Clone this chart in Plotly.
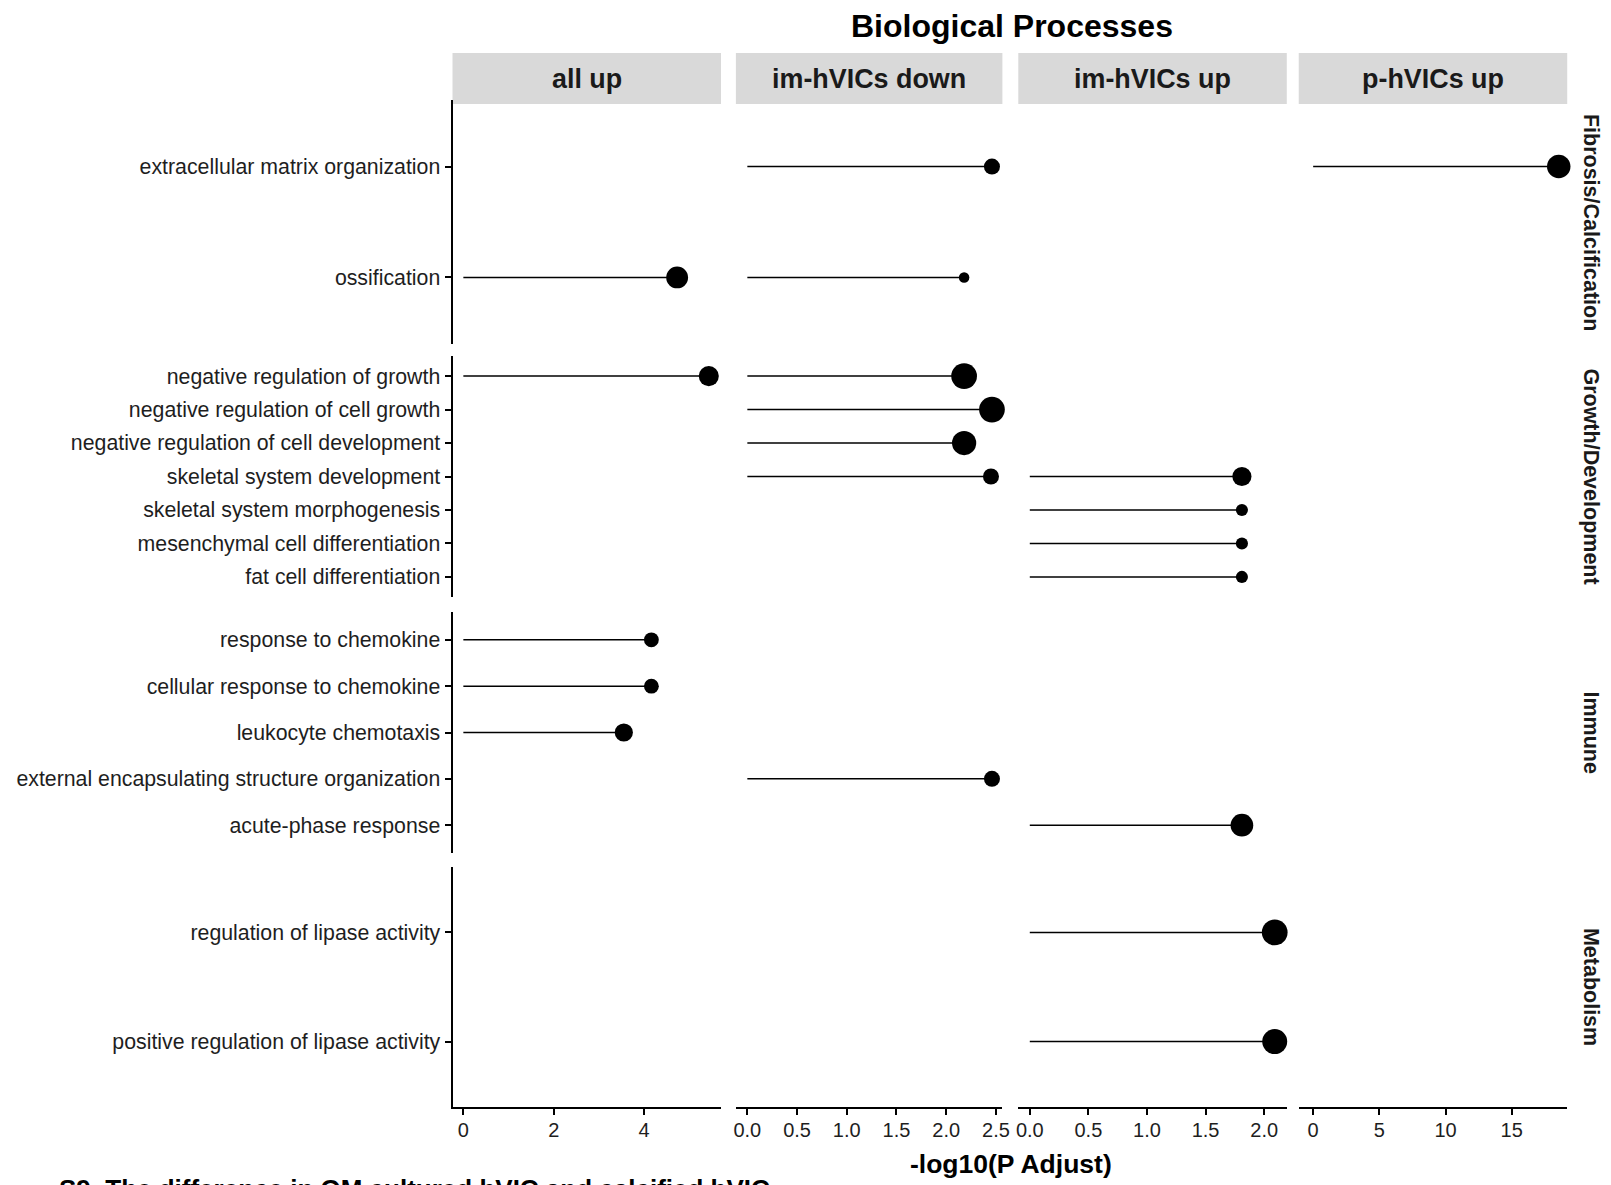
import numpy as np
import plotly.graph_objects as go

# ---------------- data ----------------
row_categories = ["Fibrosis/Calcification", "Growth/Development", "Immune", "Metabolism"]
fibrosis_terms = ["extracellular matrix organization", "ossification"]
growth_terms = ["negative regulation of growth", "negative regulation of cell growth",
                "negative regulation of cell development", "skeletal system development",
                "skeletal system morphogenesis", "mesenchymal cell differentiation",
                "fat cell differentiation"]
immune_terms = ["response to chemokine", "cellular response to chemokine", "leukocyte chemotaxis",
                "external encapsulating structure organization", "acute-phase response"]
metabolism_terms = ["regulation of lipase activity", "positive regulation of lipase activity"]

comparisons = ["all up", "im-hVICs down", "im-hVICs up", "p-hVICs up"]

all_up_terms = ["ossification", "negative regulation of growth", "response to chemokine",
                "cellular response to chemokine", "leukocyte chemotaxis"]
all_up_logp = [4.73, 5.43, 4.16, 4.16, 3.55]
all_up_count = [13, 11, 6, 6, 9]

im_down_terms = ["extracellular matrix organization", "ossification", "negative regulation of growth",
                 "negative regulation of cell growth", "negative regulation of cell development",
                 "skeletal system development", "external encapsulating structure organization"]
im_down_logp = [2.46, 2.18, 2.18, 2.46, 2.18, 2.45, 2.46]
im_down_count = [7, 3, 18, 18, 16, 7, 7]

im_up_terms = ["skeletal system development", "skeletal system morphogenesis",
               "mesenchymal cell differentiation", "fat cell differentiation",
               "acute-phase response", "regulation of lipase activity",
               "positive regulation of lipase activity"]
im_up_logp = [1.81, 1.81, 1.81, 1.81, 1.81, 2.09, 2.09]
im_up_count = [10, 4, 4, 4, 14, 18, 17]

p_up_terms = ["extracellular matrix organization"]
p_up_logp = [18.55]
p_up_count = [15]

x_tick_vals = [[0, 2, 4], [0, 0.5, 1.0, 1.5, 2.0, 2.5], [0, 0.5, 1.0, 1.5, 2.0], [0, 5, 10, 15]]
x_tick_text = [["0", "2", "4"], ["0.0", "0.5", "1.0", "1.5", "2.0", "2.5"],
               ["0.0", "0.5", "1.0", "1.5", "2.0"], ["0", "5", "10", "15"]]
x_ranges = [[-0.24, 5.70], [-0.115, 2.565], [-0.098, 2.193], [-1.09, 19.19]]

# ---------------- layout geometry (absolute page pixels) ----------------
OFF = 8  # page body margin
W, H = 1611 - OFF, 1185 - OFF
col_px = [(453, 723), (738, 1006), (1022, 1292), (1304, 1574)]
row_px = [(100, 344), (356, 597), (612, 853), (867, 1107)]
FONT = "Liberation Sans, Arial, Helvetica, sans-serif"
TXT = "#1e1e1e"


def px(v):
    return (v - OFF) / W


def py(v):
    return 1 - (v - OFF) / H


row_terms = [fibrosis_terms, growth_terms, immune_terms, metabolism_terms]
col_data = [(all_up_terms, all_up_logp, all_up_count),
            (im_down_terms, im_down_logp, im_down_count),
            (im_up_terms, im_up_logp, im_up_count),
            (p_up_terms, p_up_logp, p_up_count)]


def axname(prefix, i):
    return prefix if i == 0 else f"{prefix}{i + 1}"


fig = go.Figure()

for ci, (terms, vals, counts) in enumerate(col_data):
    for ri, rterms in enumerate(row_terms):
        sel = [k for k, t in enumerate(terms) if t in rterms]
        if not sel:
            continue
        lx, ly = [], []
        for k in sel:
            lx += [0, vals[k], None]
            ly += [terms[k], terms[k], None]
        xa = axname("x", ci)
        ya = axname("y", ri)
        fig.add_trace(go.Scatter(x=lx, y=ly, mode="lines",
                                 line=dict(color="black", width=1.5),
                                 xaxis=xa, yaxis=ya, showlegend=False, hoverinfo="skip"))
        fig.add_trace(go.Scatter(x=[vals[k] for k in sel], y=[terms[k] for k in sel],
                                 mode="markers", cliponaxis=False,
                                 marker=dict(color="black", opacity=1,
                                             size=[6.06 * np.sqrt(counts[k]) for k in sel],
                                             line=dict(width=0)),
                                 xaxis=xa, yaxis=ya, showlegend=False))

layout = dict(width=W, height=H, margin=dict(l=0, r=0, t=0, b=0),
              paper_bgcolor="white", plot_bgcolor="white",
              font=dict(family=FONT, color=TXT))

for ci, (l, r) in enumerate(col_px):
    layout[("xaxis" if ci == 0 else f"xaxis{ci + 1}")] = dict(
        domain=[px(l), px(r)], anchor="y4", range=x_ranges[ci],
        showline=True, linecolor="black", linewidth=2, mirror=False,
        showgrid=False, zeroline=False, ticks="outside", ticklen=6, tickwidth=1.5,
        tickcolor="black", tickvals=x_tick_vals[ci], ticktext=x_tick_text[ci],
        ticklabelstandoff=-2,
        tickfont=dict(size=20, color=TXT, family=FONT), fixedrange=True)

for ri, (t, b) in enumerate(row_px):
    rterms = row_terms[ri]
    n = len(rterms)
    layout[("yaxis" if ri == 0 else f"yaxis{ri + 1}")] = dict(
        domain=[py(b), py(t)], anchor="x", type="category",
        categoryorder="array", categoryarray=list(reversed(rterms)),
        range=[-0.6, n - 0.4],
        showline=True, linecolor="black", linewidth=2,
        showgrid=False, zeroline=False, ticks="outside", ticklen=6, tickwidth=1.5,
        tickcolor="black", tickfont=dict(size=21.3, color=TXT, family=FONT), fixedrange=True)

fig.update_layout(**layout)

# strips (columns)
shapes = []
annotations = []
for ci, (l, r) in enumerate(col_px):
    shapes.append(dict(type="rect", xref="paper", yref="paper",
                       x0=px(l), x1=px(r), y0=py(104), y1=py(53),
                       fillcolor="#D9D9D9", line=dict(width=0), layer="below"))
    annotations.append(dict(xref="paper", yref="paper", x=px((l + r) / 2), y=py(78.5),
                            text=f"<b>{comparisons[ci]}</b>", showarrow=False,
                            font=dict(size=26.9, color="#1a1a1a", family=FONT),
                            xanchor="center", yanchor="middle"))

# strips (rows)
for ri, (t, b) in enumerate(row_px):
    annotations.append(dict(xref="paper", yref="paper", x=px(1598), y=py((t + b) / 2),
                            text=f"<b>{row_categories[ri]}</b>", showarrow=False, textangle=90,
                            font=dict(size=21.5, color="#1a1a1a", family=FONT),
                            xanchor="center", yanchor="middle"))

# title
annotations.append(dict(xref="paper", yref="paper", x=px(1016), y=py(26),
                        text="<b>Biological Processes</b>", showarrow=False,
                        font=dict(size=32, color="black", family=FONT),
                        xanchor="center", yanchor="middle"))
# x title
annotations.append(dict(xref="paper", yref="paper", x=px(1015), y=py(1164),
                        text="<b>-log10(P Adjust)</b>", showarrow=False,
                        font=dict(size=26.5, color="black", family=FONT),
                        xanchor="center", yanchor="middle"))
# caption (cut at the bottom edge, as in the source image)
annotations.append(dict(xref="paper", yref="paper", x=px(55), y=py(1172),
                        text="<b>S9. The difference in OM cultured hVIC and calcified hVIC</b>",
                        showarrow=False, font=dict(size=26, color="black", family=FONT),
                        xanchor="left", yanchor="top"))

fig.update_layout(shapes=shapes, annotations=annotations)
fig.write_html("out.html")
